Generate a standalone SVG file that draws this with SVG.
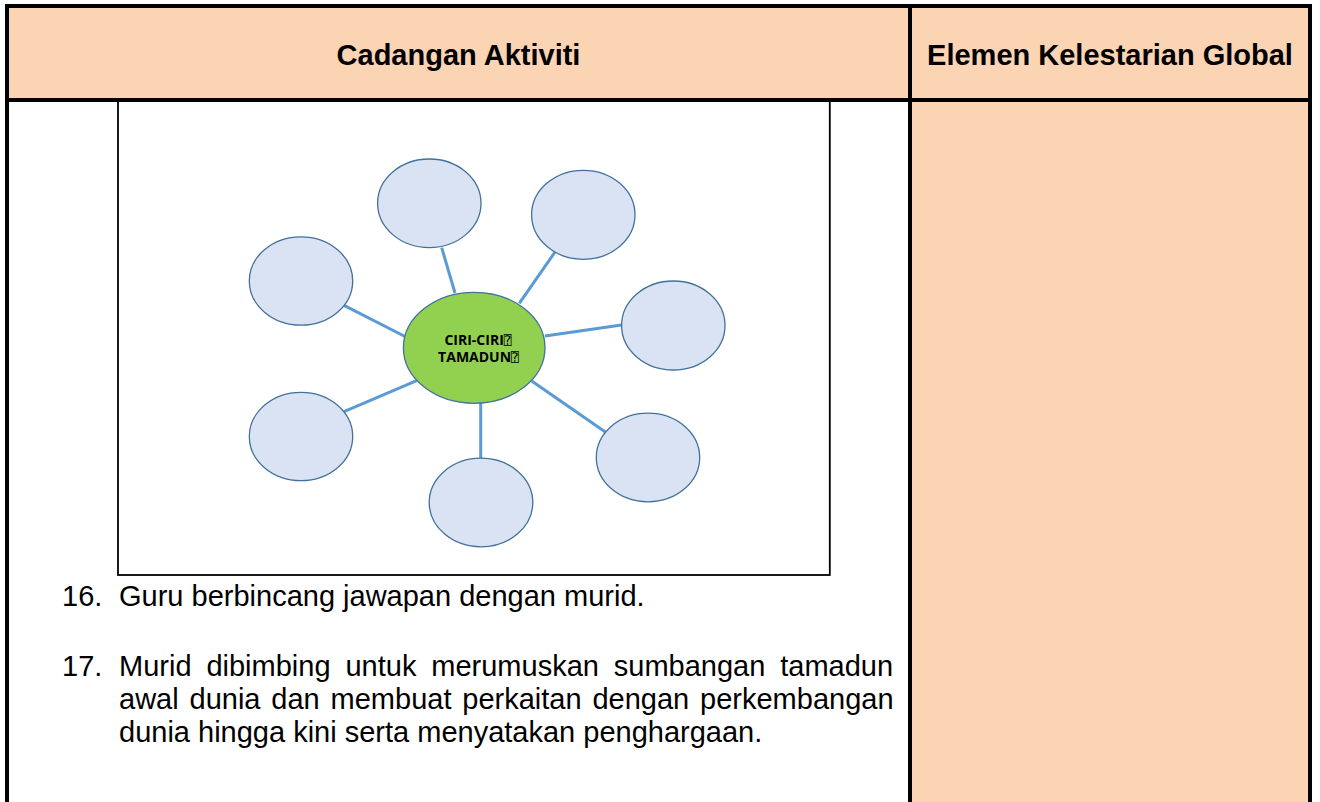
<svg xmlns="http://www.w3.org/2000/svg" width="1320" height="802" viewBox="0 0 1320 802">
<style>
.hdr{font-family:"Liberation Sans",Arial,sans-serif;font-weight:bold;font-size:29px;fill:#000}
.body{font-family:"Liberation Sans",Arial,sans-serif;font-size:29px;fill:#000}
.sat{fill:#DAE3F3;stroke:#41719C;stroke-width:1.3}
.ctr{fill:#92D050;stroke:#41719C;stroke-width:1.3}
.conn line{stroke:#5B9BD5;stroke-width:3;stroke-linecap:butt}
.lbl{font-family:"Open Sans","DejaVu Sans",sans-serif;font-weight:bold;font-size:14px;fill:#000}
.tofu{font-family:"DejaVu Sans","DejaVu Sans Mono",sans-serif;font-weight:normal;font-size:13px}
</style>
<rect width="1320" height="802" fill="#fff"/>
<g id="table">
<rect x="9" y="8" width="1299" height="90" fill="#FBD4B4"/>
<rect x="912" y="102" width="396" height="700" fill="#FBD4B4"/>
<rect x="5" y="4" width="1307" height="4" fill="#000"/>
<rect x="5" y="4" width="4" height="798" fill="#000"/>
<rect x="1308" y="4" width="4" height="798" fill="#000"/>
<rect x="908" y="4" width="4" height="798" fill="#000"/>
<rect x="5" y="98" width="1307" height="4" fill="#000"/>
<text class="hdr" x="458.5" y="65" text-anchor="middle">Cadangan Aktiviti</text>
<text class="hdr" x="1110" y="65" text-anchor="middle">Elemen Kelestarian Global</text>
</g>
<g id="frame">
<rect x="118" y="101" width="711.8" height="474" fill="none" stroke="#000" stroke-width="1.8"/>
</g>
<g class="conn" id="connectors">
<line x1="441.7" y1="247.7" x2="455" y2="293"/>
<line x1="344" y1="305.3" x2="407" y2="337.5"/>
<line x1="555" y1="252" x2="519.3" y2="303.3"/>
<line x1="621.5" y1="325" x2="545" y2="336"/>
<line x1="344" y1="411.7" x2="416.7" y2="380.7"/>
<line x1="480.7" y1="403" x2="480.7" y2="458.5"/>
<line x1="531.7" y1="381" x2="605.7" y2="432.3"/>
</g>
<g id="node-top"><ellipse class="sat" cx="429.3" cy="203.3" rx="51.7" ry="44.3"/></g>
<g id="node-upper-left"><ellipse class="sat" cx="301" cy="281" rx="51.7" ry="44.2"/></g>
<g id="node-upper-right"><ellipse class="sat" cx="583.3" cy="214.8" rx="51.7" ry="44.5"/></g>
<g id="node-right"><ellipse class="sat" cx="673.3" cy="325.5" rx="51.7" ry="44.5"/></g>
<g id="node-lower-left"><ellipse class="sat" cx="301" cy="436.5" rx="51.7" ry="44.2"/></g>
<g id="node-bottom"><ellipse class="sat" cx="481" cy="502.5" rx="51.8" ry="44.3"/></g>
<g id="node-lower-right"><ellipse class="sat" cx="648" cy="457.5" rx="51.7" ry="44.3"/></g>
<g id="node-center">
<ellipse class="ctr" cx="474.2" cy="347.8" rx="70.8" ry="55.5"/>
<text class="lbl" x="478" y="344.5" text-anchor="middle">CIRI-CIRI<tspan class="tofu">⍰</tspan></text>
<text class="lbl" x="478.5" y="362" text-anchor="middle">TAMADUN<tspan class="tofu">⍰</tspan></text>
</g>
<g id="text">
<text class="body" x="62" y="606">16.</text>
<text class="body" x="119" y="606">Guru berbincang jawapan dengan murid.</text>
<text class="body" x="62" y="676">17.</text>
<text class="body" x="119" y="676" word-spacing="6.84">Murid dibimbing untuk merumuskan sumbangan tamadun</text>
<text class="body" x="119" y="709" word-spacing="2.8">awal dunia dan membuat perkaitan dengan perkembangan</text>
<text class="body" x="119" y="742">dunia hingga kini serta menyatakan penghargaan.</text>
</g>
</svg>
